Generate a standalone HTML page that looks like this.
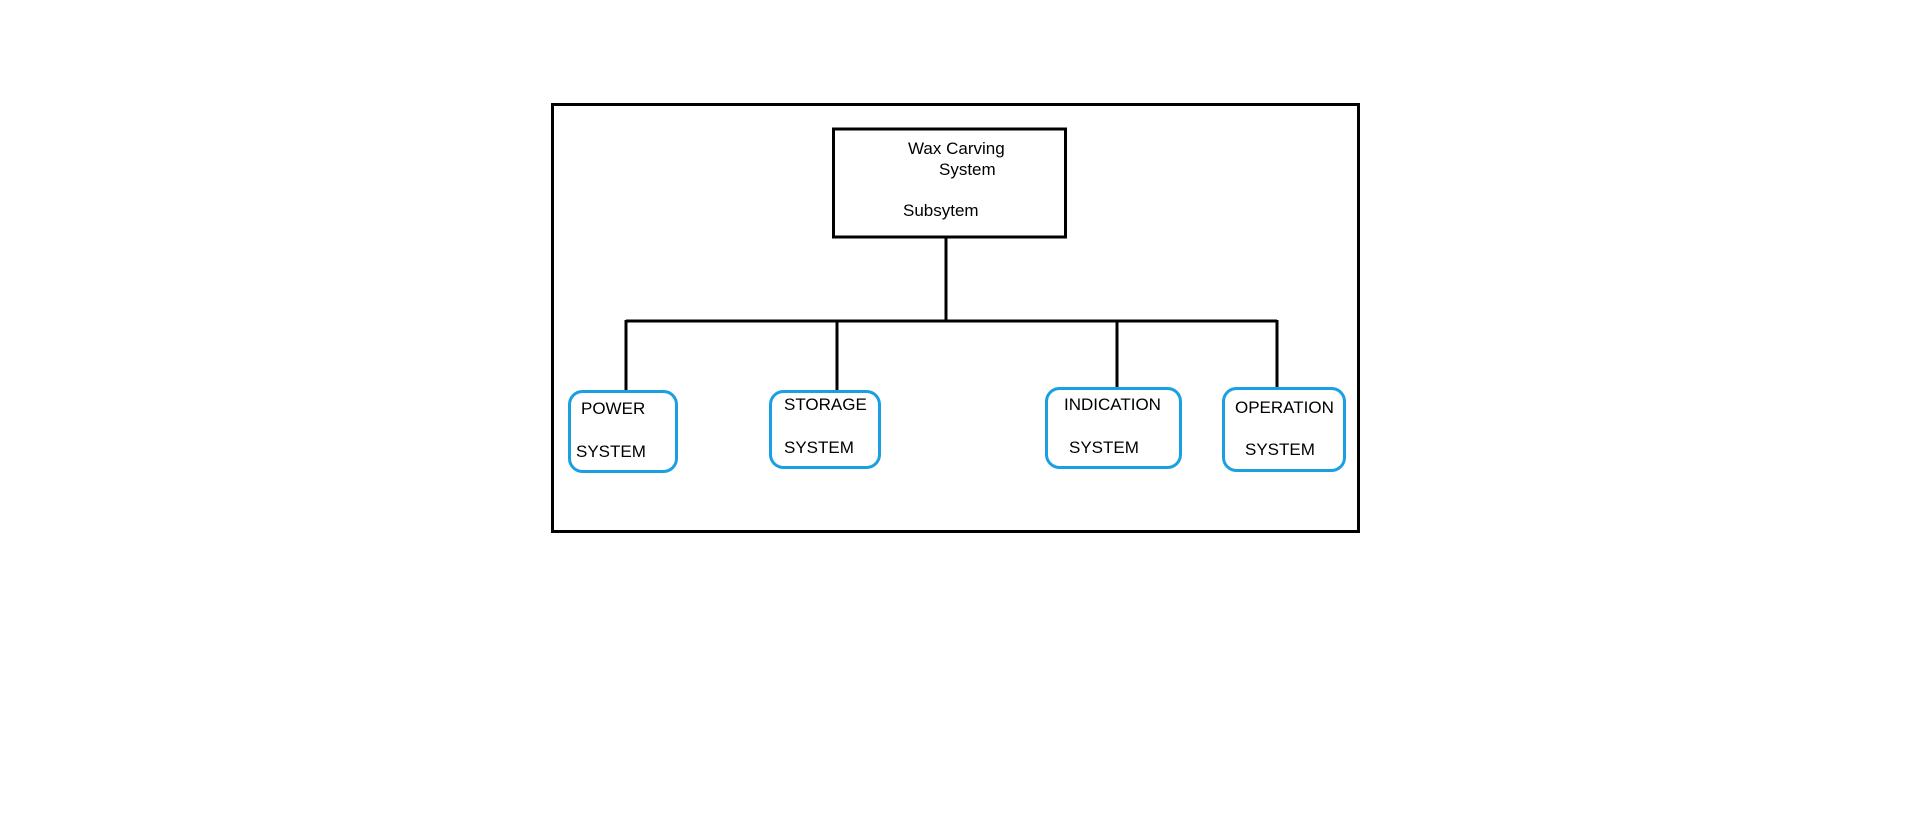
<!DOCTYPE html>
<html><head><meta charset="utf-8"><style>
html,body{margin:0;padding:0;background:#fff;width:1914px;height:825px;overflow:hidden}
</style></head><body>
<svg width="1914" height="825" xmlns="http://www.w3.org/2000/svg" font-family="Liberation Sans, sans-serif" font-size="17" fill="#000">
<rect x="552.5" y="104.5" width="806" height="427" fill="none" stroke="#000" stroke-width="3"/>
<rect x="833.5" y="129" width="232" height="108" fill="none" stroke="#000" stroke-width="3"/>
<g stroke="#000" stroke-width="3" fill="none">
<line x1="946" y1="237" x2="946" y2="321"/>
<line x1="626" y1="321" x2="1277" y2="321"/>
<line x1="626" y1="320" x2="626" y2="391"/>
<line x1="837" y1="320" x2="837" y2="390"/>
<line x1="1117" y1="320" x2="1117" y2="388"/>
<line x1="1277" y1="320" x2="1277" y2="388"/>
</g>
<g stroke="#1aa0e2" stroke-width="3" fill="none">
<rect x="569.5" y="391.5" width="107" height="80" rx="13"/>
<rect x="770.5" y="391.5" width="109" height="76" rx="13"/>
<rect x="1046.5" y="388.5" width="134" height="79" rx="13"/>
<rect x="1223.5" y="388.5" width="121" height="82" rx="13"/>
</g>
<text x="908" y="154">Wax Carving</text>
<text x="939" y="175">System</text>
<text x="903" y="216">Subsytem</text>
<text x="581" y="414">POWER</text>
<text x="576" y="457">SYSTEM</text>
<text x="784" y="410">STORAGE</text>
<text x="784" y="453">SYSTEM</text>
<text x="1064" y="410">INDICATION</text>
<text x="1069" y="453">SYSTEM</text>
<text x="1235" y="413">OPERATION</text>
<text x="1245" y="455">SYSTEM</text>
</svg>
</body></html>
